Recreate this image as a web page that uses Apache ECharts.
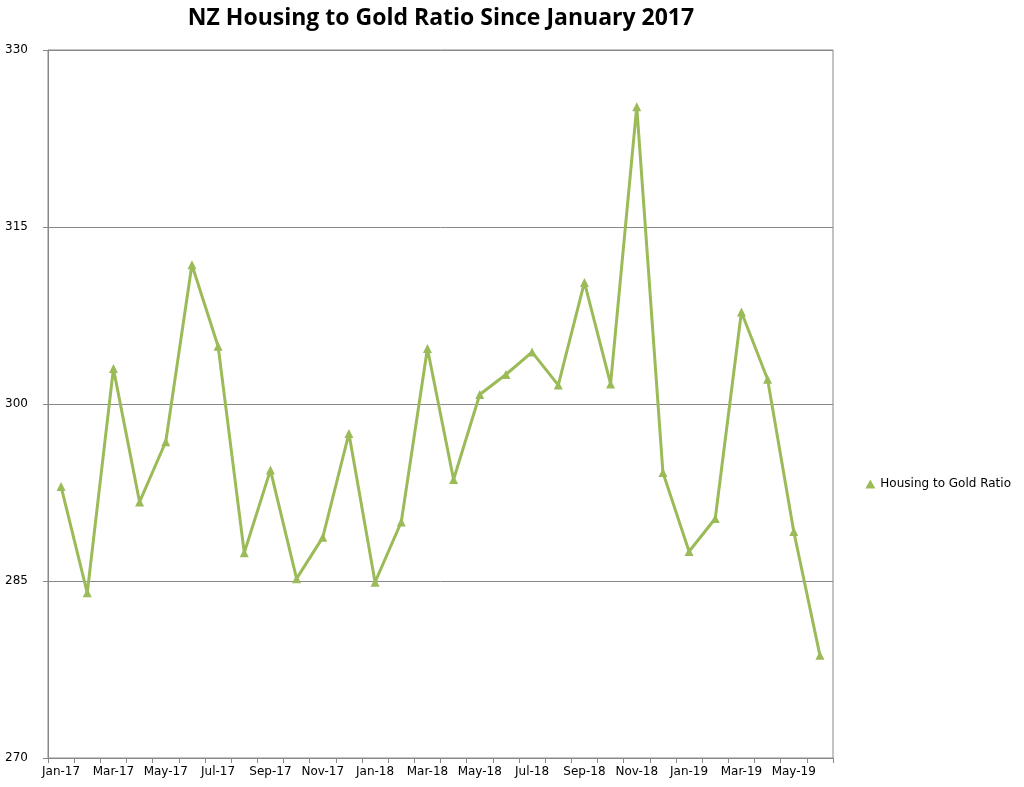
<!DOCTYPE html>
<html><head><meta charset="utf-8">
<script src="https://cdn.jsdelivr.net/npm/echarts@6/dist/echarts.min.js"></script>
<style>html,body{margin:0;padding:0;background:#fff}#c{width:1024px;height:787px}</style>
</head><body><div id="c"></div>
<script>
const categories = ["Jan-17","Feb-17","Mar-17","Apr-17","May-17","Jun-17","Jul-17","Aug-17","Sep-17","Oct-17","Nov-17","Dec-17",
"Jan-18","Feb-18","Mar-18","Apr-18","May-18","Jun-18","Jul-18","Aug-18","Sep-18","Oct-18","Nov-18","Dec-18",
"Jan-19","Feb-19","Mar-19","Apr-19","May-19","Jun-19"];
const ratio = [293.0,284.0,303.0,291.7,296.8,311.8,304.9,287.4,294.4,285.2,288.7,297.5,
284.9,290.0,304.7,293.6,300.8,302.5,304.4,301.6,310.3,301.7,325.2,294.2,
287.5,290.3,307.8,302.1,289.2,278.7];
const chart = echarts.init(document.getElementById('c'));
chart.setOption({
  animation:false,
  title:{text:'NZ Housing to Gold Ratio Since January 2017',left:436,top:2,textAlign:'center',
    textStyle:{fontFamily:'Open Sans',fontWeight:'bold',fontSize:23,color:'#000'}},
  legend:{right:8,top:473,orient:'vertical',icon:'triangle',itemWidth:10,itemHeight:9,
    textStyle:{fontFamily:'DejaVu Sans',fontSize:12,color:'#000'},data:['Housing to Gold Ratio']},
  grid:{left:48,right:191,top:50,bottom:29,show:true,borderColor:'#888',borderWidth:1},
  xAxis:{type:'category',data:categories,boundaryGap:true,
    axisLine:{lineStyle:{color:'#888'}},axisTick:{show:true,interval:0,lineStyle:{color:'#888'}},
    axisLabel:{interval:1,color:'#000',fontFamily:'DejaVu Sans',fontSize:12,margin:8}},
  yAxis:{type:'value',min:270,max:330,interval:15,
    axisLine:{show:true,lineStyle:{color:'#888'}},axisTick:{show:true,lineStyle:{color:'#888'}},
    axisLabel:{color:'#000',fontFamily:'DejaVu Sans',fontSize:12,margin:20},
    splitLine:{lineStyle:{color:'#888'}}},
  series:[{name:'Housing to Gold Ratio',type:'line',data:ratio,symbol:'triangle',symbolSize:9,
    lineStyle:{color:'#9BBB59',width:3},itemStyle:{color:'#9BBB59'}}]
});
</script></body></html>
